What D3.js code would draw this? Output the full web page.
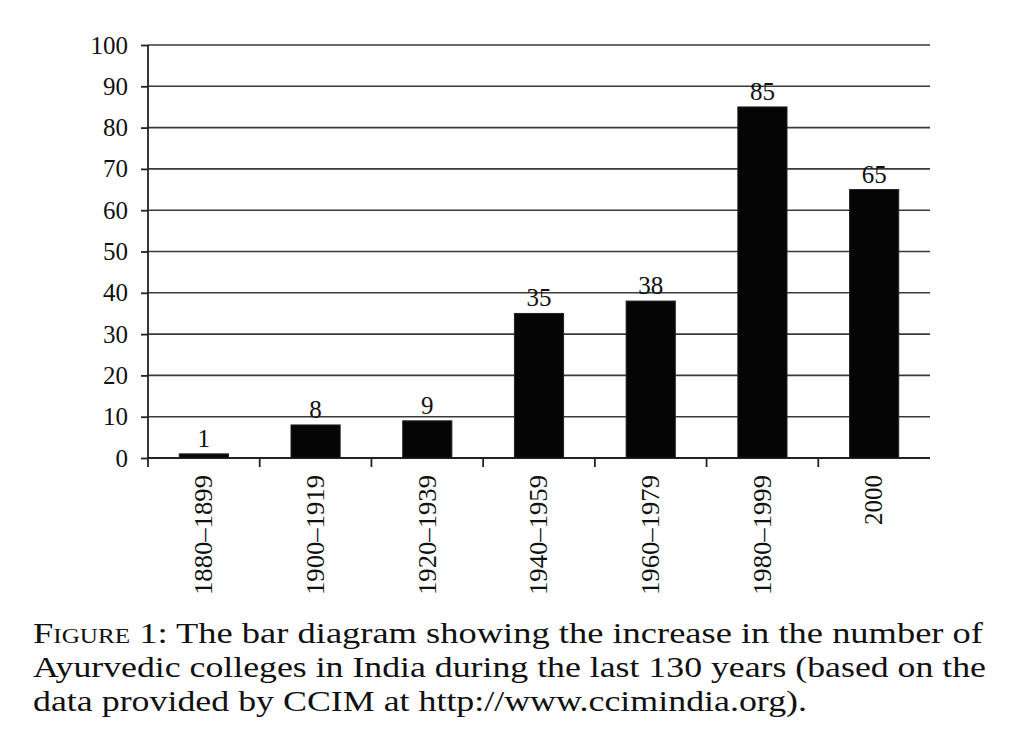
<!DOCTYPE html>
<html>
<head>
<meta charset="utf-8">
<script src="https://cdn.jsdelivr.net/npm/d3@7"></script>
<style>
  body { margin: 0; background: #fff; }
  text { font-family: "Liberation Serif", "DejaVu Serif", serif; fill: #111; }
</style>
</head>
<body>
<div id="chart"></div>
<script>
// data
var periods = ["1880–1899", "1900–1919", "1920–1939", "1940–1959", "1960–1979", "1980–1999", "2000"];
var colleges = [1, 8, 9, 35, 38, 85, 65];
var yTicks = [0, 10, 20, 30, 40, 50, 60, 70, 80, 90, 100];
var captionLines = [
  "The bar diagram showing the increase in the number of",
  "Ayurvedic colleges in India during the last 130 years (based on the",
  "data provided by CCIM at http://www.ccimindia.org)."
];

var svgWidth = 1024;
var svgHeight = 742;
var margin = { top: 45, right: 94, bottom: 284, left: 148 };
var width = svgWidth - margin.left - margin.right;
var height = svgHeight - margin.top - margin.bottom;

var svg = d3.select("#chart")
  .append("svg")
  .attr("width", svgWidth)
  .attr("height", svgHeight);

var chartGroup = svg.append("g")
  .attr("transform", `translate(${margin.left}, ${margin.top})`);

var x = d3.scaleBand()
  .domain(periods)
  .range([0, width])
  .paddingInner(0.56)
  .paddingOuter(0.28);

var y = d3.scaleLinear()
  .domain([0, 100])
  .range([height, 0]);

// gridlines
chartGroup.append("g")
  .selectAll("line")
  .data(yTicks.filter(d => d > 0))
  .enter()
  .append("line")
  .attr("x1", 0)
  .attr("x2", width)
  .attr("y1", d => y(d))
  .attr("y2", d => y(d))
  .attr("stroke", "#3a3a3a")
  .attr("stroke-width", 1.6);

// left axis
var leftAxis = d3.axisLeft(y)
  .tickValues(yTicks)
  .tickSize(7)
  .tickSizeOuter(0)
  .tickPadding(13);
var yAxisG = chartGroup.append("g").call(leftAxis);
yAxisG.select(".domain").attr("stroke", "#222").attr("stroke-width", 1.8)
  .attr("d", `M0,${height + 9}V0`);
yAxisG.selectAll(".tick line").attr("stroke", "#222").attr("stroke-width", 1.8);
yAxisG.selectAll(".tick text")
  .style("font-family", "Liberation Serif")
  .style("font-size", "25px")
  .attr("fill", "#111");

// bottom axis: baseline plus ticks between categories
chartGroup.append("line")
  .attr("x1", 0).attr("x2", width)
  .attr("y1", y(0)).attr("y2", y(0))
  .attr("stroke", "#222").attr("stroke-width", 1.8);
chartGroup.append("g")
  .selectAll("line")
  .data(periods.slice(1))
  .enter()
  .append("line")
  .attr("x1", d => x(d) - x.step() * x.paddingInner() / 2)
  .attr("x2", d => x(d) - x.step() * x.paddingInner() / 2)
  .attr("y1", y(0))
  .attr("y2", y(0) + 9)
  .attr("stroke", "#222").attr("stroke-width", 1.8);

// bars
chartGroup.selectAll("rect.bar")
  .data(colleges)
  .enter()
  .append("rect")
  .attr("class", "bar")
  .attr("x", (d, i) => x(periods[i]))
  .attr("y", d => y(d))
  .attr("width", x.bandwidth())
  .attr("height", d => y(0) - y(d))
  .attr("fill", "#050505")
  .attr("stroke", "#222")
  .attr("stroke-width", 1);

// value labels
chartGroup.selectAll("text.val")
  .data(colleges)
  .enter()
  .append("text")
  .attr("class", "val")
  .attr("x", (d, i) => x(periods[i]) + x.bandwidth() / 2)
  .attr("y", d => y(d) - 7)
  .attr("text-anchor", "middle")
  .style("font-size", "25px")
  .text(d => d);

// rotated category labels
var catLabels = chartGroup.selectAll("text.cat")
  .data(periods)
  .enter()
  .append("text")
  .attr("class", "cat")
  .attr("transform", d => `translate(${x(d) + x.bandwidth() / 2}, ${height + 17}) rotate(-90)`)
  .attr("dy", "0.33em")
  .attr("text-anchor", "end")
  .style("font-size", "25px")
  .text(d => d);
// the year ranges are printed a bit wider than Liberation Serif
catLabels.filter(d => d.length > 4)
  .attr("textLength", 120)
  .attr("lengthAdjust", "spacingAndGlyphs");

// caption (stretched a little to fill the same width as the printed figure)
var caption = svg.append("g");
var line1 = caption.append("text")
  .attr("x", 33).attr("y", 643)
  .style("font-size", "29px")
  .attr("textLength", 950).attr("lengthAdjust", "spacingAndGlyphs");
line1.append("tspan").style("font-variant", "small-caps").text("Figure 1");
line1.append("tspan").text(": " + captionLines[0]);
caption.append("text")
  .attr("x", 33).attr("y", 677)
  .style("font-size", "29px")
  .attr("textLength", 953).attr("lengthAdjust", "spacingAndGlyphs")
  .text(captionLines[1]);
caption.append("text")
  .attr("x", 33).attr("y", 711)
  .style("font-size", "29px")
  .attr("textLength", 774).attr("lengthAdjust", "spacingAndGlyphs")
  .text(captionLines[2]);
</script>
</body>
</html>
